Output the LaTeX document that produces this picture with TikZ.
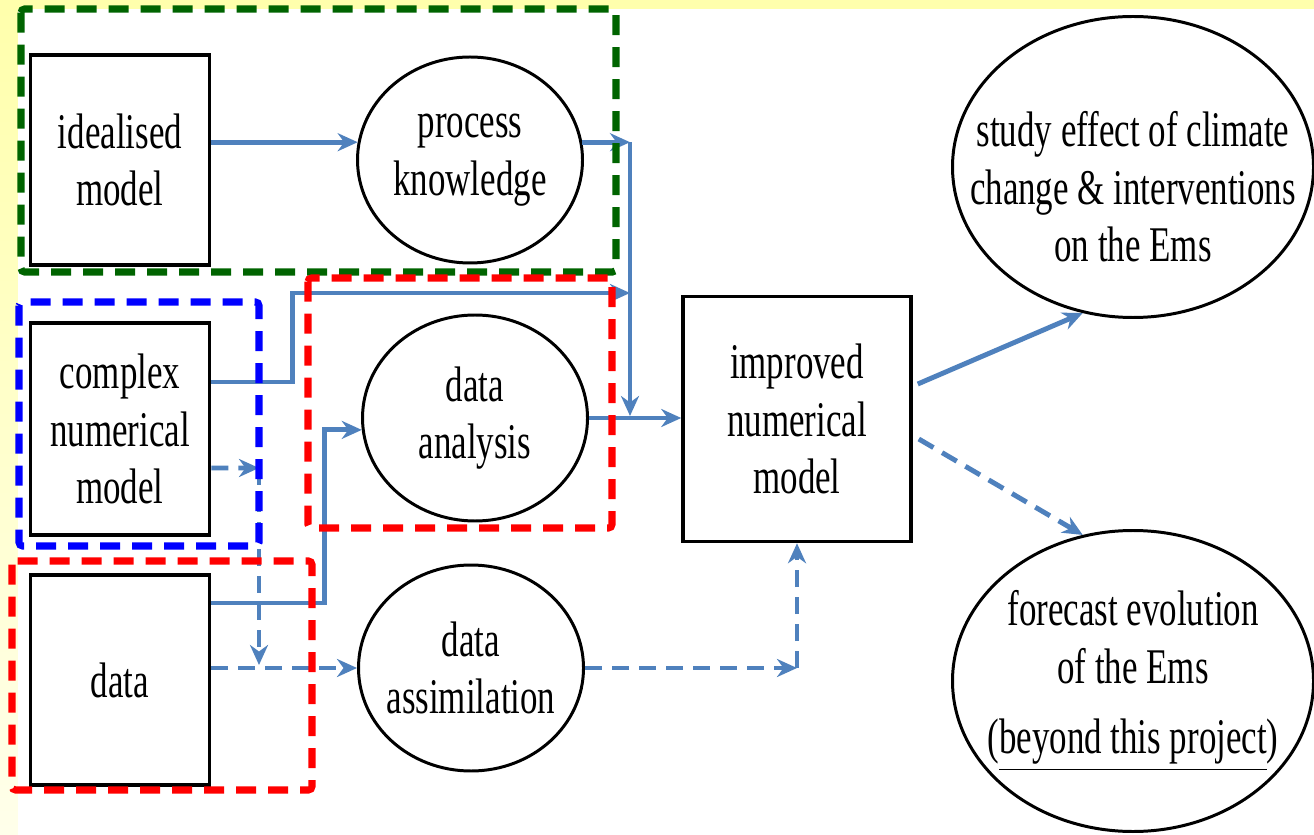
\documentclass[tikz,border=0pt]{standalone}
\usepackage{fontspec}
\setmainfont{Liberation Serif}[FakeStretch=0.7]
\usetikzlibrary{arrows.meta,shapes.geometric}
\definecolor{flowblue}{RGB}{79,129,189}
\definecolor{grpgreen}{RGB}{0,100,0}
\definecolor{paleyellow}{RGB}{255,255,172}

\begin{document}
\begin{tikzpicture}[>={Stealth[length=0.2cm,width=0.18cm]},every node/.style={font=\fontsize{14.2}{16.4}\selectfont,align=center}]
  \tikzset{box/.style={rectangle,draw,line width=1pt,minimum width=1.79cm,minimum height=2.1cm,inner sep=0pt}}
  \tikzset{oval/.style={ellipse,draw,line width=0.85pt,minimum width=2.25cm,minimum height=2.06cm,inner xsep=-0.3cm,inner ysep=0pt}}
  \tikzset{bigoval/.style={oval,minimum width=3.61cm,minimum height=3.01cm,inner xsep=-0.6cm}}
  \tikzset{flow/.style={->,draw=flowblue,line width=1.4pt}}
  \tikzset{dflow/.style={flow,dash pattern=on 0.17cm off 0.1cm}}
  \tikzset{grp/.style={line width=2pt,dash pattern=on 0.2cm off 0.12cm,rounded corners=1pt}}
  \useasboundingbox (0,0) rectangle (13.14,8.34);
  \fill[white] (0,0) rectangle (13.14,8.34);
  \fill[paleyellow] (0,8.25) rectangle (13.14,8.34);
  \shade[top color=paleyellow,bottom color=paleyellow!25] (0,0) rectangle (0.18,8.25);

  \node[box] (ideal) at (1.20,6.74) {idealised\\model};
  \node[oval] (proc) at (4.70,6.74) {process\\knowledge};
  \node[box,minimum height=2.12cm] (cnm) at (1.20,4.05) {complex\\numerical\\model};
  \node[oval] (dana) at (4.75,4.16) {data\\analysis};
  \node[box] (data) at (1.20,1.54) {data};
  \node[oval] (dass) at (4.71,1.66) {data\\assimilation};
  \node[box,minimum width=2.28cm,minimum height=2.45cm] (imp) at (7.97,4.15) {improved\\numerical\\model};
  \node[bigoval] (study) at (11.33,6.67) {};
  \node (studytxt) at (11.33,6.47) {study effect of climate\\change \& interventions\\on the Ems};
  \node[bigoval] (fore) at (11.33,1.53) {forecast evolution\\of the Ems\\[3.7pt](\underline{beyond this project})};

  \coordinate (pk) at (6.30,6.92);
  \coordinate (mid) at (6.30,4.18);
  \coordinate (top) at (6.30,5.41);
  \coordinate (bend) at (2.59,3.66);
  \coordinate (drop) at (2.59,1.69);
  \coordinate (corner) at (imp.south |- dass.east);

  \draw[flow] (ideal.east |- proc.171) -- (proc.171);
  \draw[flow] (proc.9) -- (pk |- proc.9);
  \draw[flow] (pk |- proc.9) -- (mid);
  \draw[flow] ([yshift=4.7mm]cnm.east) -- ++(0.81,0) |- (top);
  \draw[flow] ([yshift=7.7mm]data.east) -- ++(1.13,0) |- (dana.186);
  \draw[flow] (dana.east) -- (dana.east -| imp.west);
  \draw[dflow] ([yshift=-3.9mm]cnm.east) -- (bend);
  \draw[dflow] (bend) -- (drop);
  \draw[dflow] (dass.west -| data.east) -- (dass.west);
  \draw[dflow] (dass.east) -- (corner);
  \draw[dflow] (corner) -- (imp.south);
  \draw[flow] ([xshift=0.5mm,yshift=3.5mm]imp.east) -- (study.251);
  \draw[dflow] ([xshift=0.6mm,yshift=-2mm]imp.east) -- (fore.109);

  \draw[grp,grpgreen] (0.21,8.25) rectangle (6.16,5.62);
  \draw[grp,blue] (0.19,5.32) rectangle (2.59,2.88);
  \draw[grp,red] (3.08,5.56) rectangle (6.12,3.06);
  \draw[grp,red] (0.12,2.73) rectangle (3.12,0.44);
\end{tikzpicture}
\end{document}
